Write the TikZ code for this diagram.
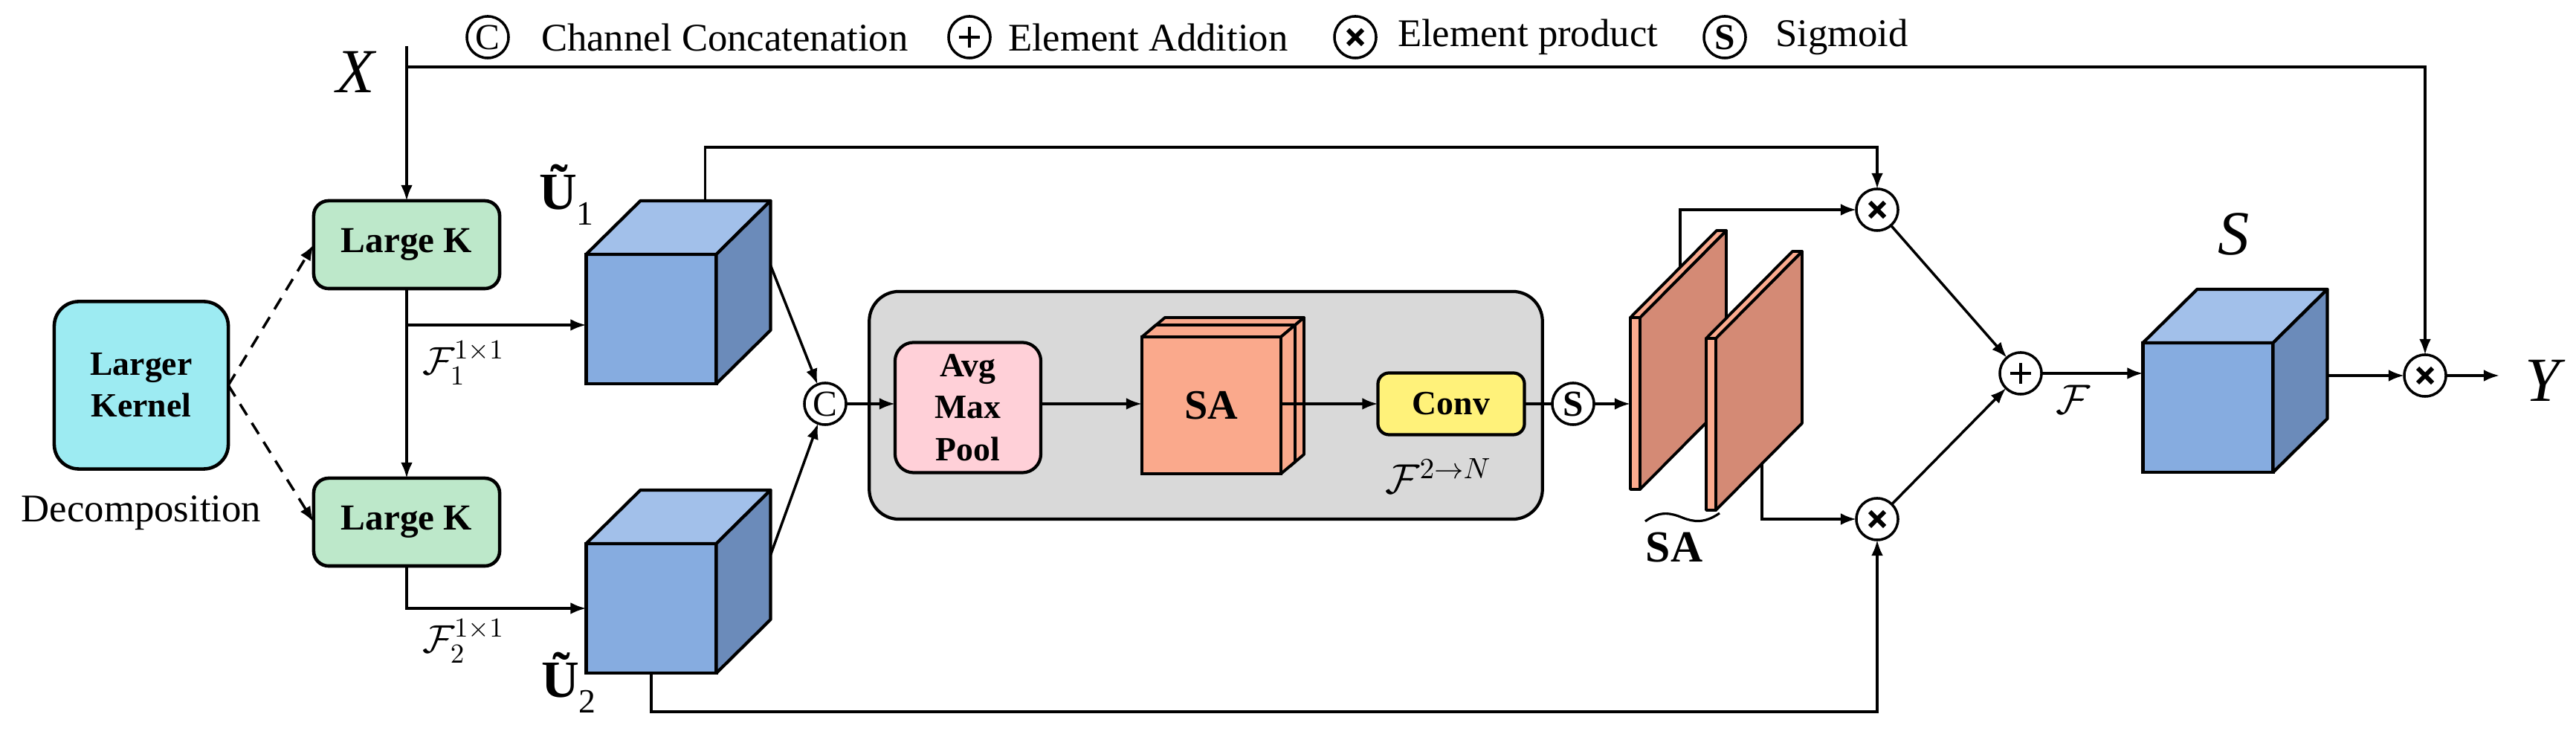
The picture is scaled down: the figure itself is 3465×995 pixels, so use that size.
\RequirePackage{fix-cm}
\documentclass[tikz,border=0pt]{standalone}
\usepackage{amsmath}
\usepackage{fontspec}
\setmainfont{Liberation Serif}
\usetikzlibrary{arrows.meta,calc}

\definecolor{lkc}{HTML}{9DEBF2}
\definecolor{kc}{HTML}{BDE8CA}
\definecolor{cfront}{HTML}{86ACE0}
\definecolor{ctop}{HTML}{A2C0EA}
\definecolor{cside}{HTML}{6B8BBA}
\definecolor{grayb}{HTML}{D9D9D9}
\definecolor{ampc}{HTML}{FFD0D8}
\definecolor{sac}{HTML}{FAA98C}
\definecolor{convc}{HTML}{FFF27A}
\definecolor{slabc}{HTML}{D48A75}
\definecolor{stripc}{HTML}{FBAB8F}

\newcommand{\fs}[1]{\fontsize{#1}{#1}\selectfont}
\newcommand{\fsb}[2]{\fontsize{#1}{#2}\selectfont}

\newcommand{\cubeat}[3]{%
  \node[cubef] (#1) at (#2,#3) {};
  \filldraw[fill=ctop, line width=1.2pt, line join=round] (#1.north west) -- ++(73,-72) -- ++(175,0) -- (#1.north east) -- cycle;
  \filldraw[fill=cside, line width=1.2pt, line join=round] (#1.north east) -- ++(73,-72) -- ++(0,174) -- (#1.south east) -- cycle;
  \coordinate (#1-r) at ($(#1.east)+(73,-72)$);
}

\newcommand{\slabat}[2]{%
  \filldraw[fill=slabc, line width=1.1pt, line join=round] (#1+13,#2) -- ++(116,-117) -- ++(0,231) -- (#1+13,#2+231) -- cycle;
  \filldraw[fill=stripc, line width=1.1pt, line join=round] (#1,#2) -- ++(116,-117) -- ++(13,0) -- (#1+13,#2) -- cycle;
  \filldraw[fill=stripc, line width=1.1pt, line join=round] (#1,#2) rectangle (#1+13,#2+231);
}

\begin{document}
\begin{tikzpicture}[x=0.01cm,y=-0.01cm,
  every node/.style={inner sep=0pt, outer sep=0pt},
  arr/.style={-{Latex[length=6pt,width=4.5pt]}, line width=1pt},
  dasharr/.style={-{Latex[length=6pt,width=4.5pt]}, line width=1pt, dash pattern=on 5pt off 3.5pt},
  kbox/.style={draw, fill=kc, line width=1.3pt, rounded corners=0.2cm, minimum width=2.5cm, minimum height=1.18cm, font=\bfseries\fs{14}},
  lkbox/.style={draw, fill=lkc, line width=1.3pt, rounded corners=0.33cm, minimum width=2.34cm, minimum height=2.25cm, align=center, font=\bfseries\fsb{13}{16}},
  cubef/.style={draw, fill=cfront, line width=1.2pt, minimum width=1.75cm, minimum height=1.74cm},
  op/.style={draw, circle, line width=1pt, minimum size=0.56cm, fill=white},
  otimes/.style={op, path picture={\draw[line width=1.7pt] ([shift={(-10,-10)}]path picture bounding box.center) -- ([shift={(10,10)}]path picture bounding box.center); \draw[line width=1.7pt] ([shift={(-10,10)}]path picture bounding box.center) -- ([shift={(10,-10)}]path picture bounding box.center);}},
  oplus/.style={op, path picture={\draw[line width=1pt] ([shift={(-14,0)}]path picture bounding box.center) -- ([shift={(14,0)}]path picture bounding box.center); \draw[line width=1pt] ([shift={(0,-14)}]path picture bounding box.center) -- ([shift={(0,14)}]path picture bounding box.center);}},
  legend/.style={anchor=west, font=\fs{15}}
]
\useasboundingbox (0,0) rectangle (3465,995);

% ---------- legend ----------
\node[op] (lc) at (656,50) {\fs{14}C};
\node[legend] (lct) at (728,50) {Channel Concatenation};
\node[oplus] (lp) at (1304,50) {};
\node[legend] (lpt) at (1356,50) {Element Addition};
\node[otimes] (lx) at (1823,50) {};
\node[legend] (lxt) at (1880,50) {Element product};
\node[op] (ls) at (2320,50) {\fs{14}\bfseries S};
\node[legend] (lst) at (2388,50) {Sigmoid};

% ---------- left part ----------
\node[font=\itshape\fs{24}] (X) at (478,97) {X};
\coordinate (xs) at (547,62);
\coordinate (xj) at (547,90);
\node[kbox] (k1) at (547,329) {Large K};
\node[kbox] (k2) at (547,702) {Large K};
\node[lkbox] (lk) at (190,518) {Larger\\Kernel};
\node[font=\fs{15}] (dec) at (190,690) {Decomposition};

\draw[dasharr] (lk.east) -- (k1.west);
\draw[dasharr] (lk.east) -- (k2.west);

\cubeat{u1}{876}{429}
\cubeat{u2}{876}{818}

\node[font=\fs{20}] (u1l) at (762,262) {{\bfseries Ũ}\raisebox{-0.3em}{\fs{13}1}};
\node[font=\fs{20}] (u2l) at (765,918) {{\bfseries Ũ}\raisebox{-0.3em}{\fs{13}2}};

\node[anchor=west] (f1) at (568,488) {\fs{15}$\mathcal{F}_1^{1\times1}$};
\node[anchor=west] (f2) at (568,862) {\fs{15}$\mathcal{F}_2^{1\times1}$};

\coordinate (b1) at (547,437);
\draw[arr] (xs) -- (k1.north);
\draw[arr] (k1.south) -- (k2.north);
\draw[arr] (b1) -- (b1 -| u1.west);
\draw[arr] (k2.south) |- (u2.west);

% ---------- middle ----------
\node[op] (cc) at (1110,543) {\fs{14}C};
\draw[arr] (u1-r) -- (cc);
\draw[arr] (u2-r) -- (cc);

\node[draw, fill=grayb, line width=1.2pt, rounded corners=0.4cm, minimum width=9.05cm, minimum height=3.06cm] (gb) at (1622,545) {};
\node[draw, fill=ampc, line width=1.2pt, rounded corners=0.25cm, minimum width=1.96cm, minimum height=1.75cm, align=center, font=\bfseries\fs{13}] (amp) at (1302,548) {Avg\\[3pt]Max\\[3pt]Pool};

% SA block (two stacked slabs)
\filldraw[fill=sac, line width=1.1pt, line join=round] (1548,443) -- (1567,427) -- (1754,427) -- (1735,443) -- cycle;
\filldraw[fill=sac, line width=1.1pt, line join=round] (1735,443) -- (1754,427) -- (1754,611) -- (1735,627) -- cycle;
\filldraw[fill=sac, line width=1.1pt, line join=round] (1536,453) -- (1555,437) -- (1742,437) -- (1723,453) -- cycle;
\filldraw[fill=sac, line width=1.1pt, line join=round] (1723,453) -- (1742,437) -- (1742,621) -- (1723,637) -- cycle;
\node[draw, fill=sac, line width=1.1pt, minimum width=1.87cm, minimum height=1.84cm, font=\bfseries\fs{16}] (sa) at (1629.5,545) {SA};

\node[draw, fill=convc, line width=1.2pt, rounded corners=0.15cm, minimum width=1.97cm, minimum height=0.83cm, font=\bfseries\fs{13}] (conv) at (1952,543) {Conv};
\node (f2n) at (1935,640) {\fs{16}$\mathcal{F}^{2\to N}$};

\draw[arr] (cc) -- (amp.west |- cc);
\draw[arr] (amp.east |- cc) -- (sa.west |- cc);
\draw[arr] (sa.east |- cc) -- (conv.west |- cc);

\node[op] (sg) at (2116,543) {\fs{14}\bfseries S};
\draw[line width=1pt] (conv.east |- sg) -- (sg);

% ---------- right part ----------
\slabat{2193}{427}
\slabat{2295}{455}
\coordinate (s1w) at (2193,543);
\coordinate (s1t) at (2260,360);
\coordinate (s2b) at (2370,624);
\draw[arr] (sg) -- (s1w);

\node[font=\bfseries\fs{17}] (sal) at (2252,736) {SA};
\draw[line width=0.9pt] (2213,701) .. controls (2233,686) and (2248,690) .. (2263,696) .. controls (2278,702) and (2293,704) .. (2313,690);

\node[otimes] (o1) at (2525,282) {};
\node[otimes] (o2) at (2525,698) {};
\node[oplus] (pl) at (2718,502) {};
\node[otimes] (o3) at (3262,505) {};

\draw[arr] (s1t) |- (o1.west);
\draw[arr] (s2b) |- (o2.west);
\draw[arr] ($(u1.north east)+(-15,-72)$) -- ++(0,-72) -| (o1.north);
\draw[arr] (u2.south) -- ++(0,52) -| (o2.south);
\draw[arr] (o1) -- (pl);
\draw[arr] (o2) -- (pl);

\cubeat{sc}{2970}{548}
\node[font=\itshape\fs{24}] (Sl) at (3005,315) {S};
\node (fl) at (2788,537) {\fs{16}$\mathcal{F}$};
\draw[arr] (pl.east) -- (pl.east -| sc.west);
\draw[arr] (sc-r |- o3) -- (o3.west);
\draw[arr] (xj) -| (o3.north);
\coordinate (yend) at (3362,505);
\draw[arr] (o3.east) -- (yend);
\node[font=\itshape\fs{24}] (Y) at (3420,512) {Y};
\end{tikzpicture}
\end{document}
